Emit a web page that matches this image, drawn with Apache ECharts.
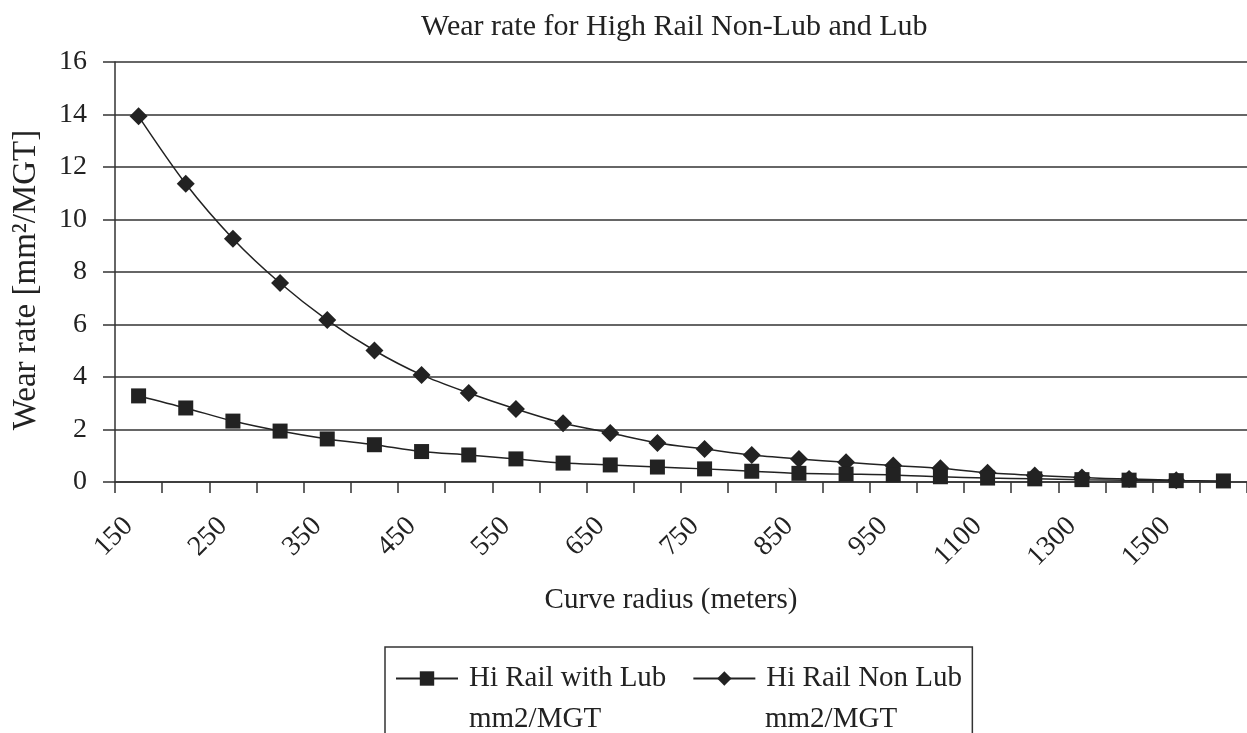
<!DOCTYPE html>
<html>
<head>
<meta charset="utf-8">
<script src="https://cdn.jsdelivr.net/npm/echarts@6/dist/echarts.min.js"></script>
<style>html,body{margin:0;padding:0;background:#fff}#c{width:1247px;height:733px}</style>
</head>
<body>
<div id="c"></div>
<script>
const categories = ['150','200','250','300','350','400','450','500','550','600','650','700','750','800','850','900','950','1000','1100','1200','1300','1400','1500','1600'];
const lubValues = [3.28, 2.82, 2.32, 1.94, 1.64, 1.42, 1.16, 1.03, 0.88, 0.72, 0.65, 0.57, 0.50, 0.41, 0.33, 0.30, 0.27, 0.20, 0.15, 0.12, 0.09, 0.07, 0.05, 0.04];
const nonLubValues = [13.93, 11.36, 9.27, 7.58, 6.17, 5.01, 4.08, 3.39, 2.78, 2.24, 1.87, 1.49, 1.26, 1.03, 0.88, 0.75, 0.63, 0.52, 0.35, 0.25, 0.17, 0.11, 0.07];
const yTicks = [0, 2, 4, 6, 8, 10, 12, 14, 16];
const lubName = 'Hi Rail with Lub\nmm2/MGT';
const nonLubName = 'Hi Rail Non Lub\nmm2/MGT';

const serif = 'Liberation Serif';
const ink = '#222';
const legendText = {fontFamily: serif, fontSize: 29, color: ink, lineHeight: 41, width: 196, overflow: 'none', padding: [0, 0, 0, 6]};
const chart = echarts.init(document.getElementById('c'));
chart.setOption({
  animation: false,
  backgroundColor: '#fff',
  title: {
    text: 'Wear rate for High Rail Non-Lub and Lub',
    left: 421, top: 12, padding: 0,
    textStyle: {fontFamily: serif, fontSize: 30, fontWeight: 'normal', color: ink}
  },
  grid: {left: 115, top: 62, bottom: 251, right: -8, containLabel: false},
  legend: [
    {
      left: 385, top: 647,
      padding: [11, 10, 60, 10],
      borderColor: '#333', borderWidth: 1.5,
      itemWidth: 62, itemHeight: 18, itemGap: 26,
      selectedMode: false,
      data: [lubName, nonLubName],
      formatter: n => n.split('\n')[0],
      textStyle: legendText
    },
    {
      left: 385, top: 688,
      padding: [11, 10, 0, 10],
      itemWidth: 62, itemHeight: 18, itemGap: 26,
      selectedMode: false,
      data: [lubName, nonLubName],
      formatter: n => n.split('\n')[1],
      itemStyle: {color: 'rgba(0,0,0,0)', borderColor: 'rgba(0,0,0,0)', opacity: 0},
      lineStyle: {color: 'rgba(0,0,0,0)', opacity: 0},
      textStyle: legendText
    }
  ],
  xAxis: {
    type: 'category',
    data: categories,
    boundaryGap: true,
    name: 'Curve radius (meters)',
    nameLocation: 'middle',
    nameGap: 104,
    nameTextStyle: {fontFamily: serif, fontSize: 29, color: ink, padding: [0, 20, 0, 0]},
    axisLine: {lineStyle: {color: '#333', width: 1.5}},
    axisTick: {show: true, interval: 0, length: 11, lineStyle: {color: '#333', width: 1.5}},
    axisLabel: {interval: 1, rotate: 45, margin: 30, padding: [0, 14, 0, 0], fontFamily: serif, fontSize: 28, color: ink},
    splitLine: {show: false}
  },
  yAxis: {
    type: 'value',
    min: yTicks[0], max: yTicks[yTicks.length - 1], interval: 2,
    name: 'Wear rate [mm²/MGT]',
    nameLocation: 'middle',
    nameGap: 72,
    nameTextStyle: {fontFamily: serif, fontSize: 33, color: ink, padding: [0, 16, 0, 0]},
    axisLine: {show: true, lineStyle: {color: '#333', width: 1.5}},
    axisTick: {show: true, length: 12, lineStyle: {color: '#333', width: 1.5}},
    axisLabel: {margin: 28, fontFamily: serif, fontSize: 28, color: ink},
    splitLine: {show: true, lineStyle: {color: '#333', width: 1.6}}
  },
  series: [
    {
      name: nonLubName,
      type: 'line',
      data: nonLubValues,
      smooth: 0.3,
      symbol: 'diamond', symbolSize: 18,
      lineStyle: {color: ink, width: 1.5},
      itemStyle: {color: ink}
    },
    {
      name: lubName,
      type: 'line',
      data: lubValues,
      smooth: 0.3,
      symbol: 'rect', symbolSize: 15,
      lineStyle: {color: ink, width: 1.5},
      itemStyle: {color: ink}
    }
  ]
});
</script>
</body>
</html>
